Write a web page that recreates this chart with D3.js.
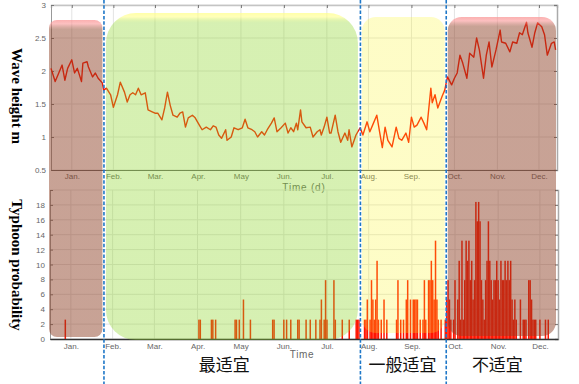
<!DOCTYPE html>
<html>
<head>
<meta charset="utf-8">
<script src="https://cdn.jsdelivr.net/npm/d3@7"></script>
<style>
  body { margin: 0; background: #fff; }
  svg { display: block; font-family: "Liberation Sans", Arial, sans-serif; }
</style>
</head>
<body>
<svg id="chart" width="579" height="384"></svg>
<script>
// ---- data ----
const monthNames = ["Jan.", "Feb.", "Mar.", "Apr.", "May", "Jun.", "Jul.", "Aug.", "Sep.", "Oct.", "Nov.", "Dec."];
const monthTickDays = [15, 45, 75, 106, 137, 168, 199, 229, 260, 291, 322, 352];

const waveTicks = [0.5, 1, 1.5, 2, 2.5, 3];
const probTicks = [0, 2, 4, 6, 8, 10, 12, 14, 16, 18, 20];

const waveDays = [0, 3, 5, 8, 10, 12, 15, 17, 19, 22, 23, 26, 27, 30, 32, 34, 37, 38, 40, 43,
  45, 48, 50, 53, 55, 57, 59, 61, 63, 65, 68, 70, 73, 75, 77, 80, 82, 84, 86, 88,
  91, 93, 95, 97, 99, 102, 104, 107, 109, 112, 115, 117, 119, 121, 123, 126, 127, 130, 132, 135,
  138, 140, 142, 145, 147, 149, 152, 154, 156, 159, 161, 163, 166, 169, 171, 173, 175, 177, 178, 180,
  181, 184, 187, 189, 192, 194, 195, 197, 199, 201, 202, 205, 207, 209, 212, 214, 215, 217, 220, 223,
  225, 228, 230, 232, 235, 237, 239, 241, 243, 246, 249, 251, 253, 256, 258, 260, 262, 264, 267, 269,
  271, 274, 275, 277, 279, 282, 284, 286, 289, 291, 293, 295, 297, 300, 302, 305, 307, 309, 312, 314,
  316, 318, 321, 324, 325, 328, 331, 333, 336, 338, 340, 343, 344, 347, 349, 351, 354, 356, 358, 361,
  363, 364];
const waveHeights = [2.04, 1.84, 1.94, 2.09, 1.86, 2.04, 2.17, 1.97, 2.04, 1.84, 2.12, 2.14, 2.06, 1.91, 1.97, 1.89, 1.82, 1.71, 1.74, 1.64,
  1.45, 1.64, 1.83, 1.68, 1.53, 1.64, 1.67, 1.64, 1.74, 1.64, 1.67, 1.41, 1.38, 1.36, 1.36, 1.26, 1.44, 1.68, 1.48, 1.33,
  1.30, 1.36, 1.38, 1.15, 1.29, 1.33, 1.29, 1.18, 1.11, 1.15, 1.11, 1.17, 1.15, 1.03, 0.98, 1.11, 0.95, 1.00, 1.14, 1.11,
  1.14, 1.27, 1.14, 1.11, 1.08, 1.00, 1.08, 1.03, 1.11, 1.21, 1.29, 1.08, 1.14, 1.21, 1.06, 1.14, 1.08, 1.21, 1.11, 1.41,
  1.23, 1.14, 1.15, 1.00, 1.08, 1.11, 1.03, 1.15, 1.30, 1.06, 1.06, 1.33, 1.08, 0.92, 1.06, 0.95, 1.11, 0.85, 1.03, 1.14,
  1.03, 1.23, 1.08, 1.18, 1.33, 1.08, 0.84, 1.15, 0.95, 0.85, 1.15, 0.98, 0.95, 1.06, 0.92, 1.30, 1.15, 1.18, 1.30, 1.21,
  1.11, 1.74, 1.52, 1.64, 1.44, 1.61, 1.71, 1.91, 1.79, 1.89, 1.97, 2.24, 2.12, 1.89, 2.27, 2.21, 2.50, 2.32, 1.89, 2.24,
  2.44, 2.06, 2.32, 2.62, 2.44, 2.42, 2.29, 2.44, 2.42, 2.58, 2.55, 2.74, 2.58, 2.36, 2.58, 2.73, 2.67, 2.55, 2.24, 2.42,
  2.44, 2.32];

const typhoonDays = [11, 107, 108, 116, 117, 119, 133, 134, 136, 139, 144, 160, 161, 168, 170, 173, 178, 179, 184, 187,
  191, 194, 195, 197, 198, 199, 204, 205, 210, 215, 220, 221,
  222, 226, 227, 228, 230, 231, 232, 233, 234, 235, 236, 238, 240, 242, 249, 250, 252, 254,
  256, 257, 259, 261, 262, 263, 264, 266, 268, 269, 270, 272, 273, 274, 275, 276, 277, 278, 279, 281, 284,
  285, 286, 287, 288, 290, 291, 293, 294, 295, 296, 297, 298, 299, 300, 301, 302, 303, 304, 305, 306,
  307, 308, 309, 310, 311, 312, 313, 314, 315, 316, 317, 318, 319, 320, 321, 322, 323, 324, 325, 326,
  327, 328, 329, 330, 331, 332, 333, 334, 335, 338, 340, 341, 342, 344, 345, 346, 347, 348, 349, 352,
  356, 358];
const typhoonProb = [2.6, 2.6, 2.6, 2.6, 2.6, 2.6, 2.6, 2.6, 2.6, 5.3, 2.6, 2.6, 2.6, 2.6, 2.6, 2.6, 2.6, 2.6, 2.6, 2.6,
  2.6, 2.6, 5.3, 2.6, 7.9, 2.6, 7.9, 2.6, 2.6, 2.6, 2.6, 2.6,
  2.6, 2.6, 2.6, 5.3, 2.6, 7.9, 5.3, 2.6, 5.3, 10.5, 2.6, 2.6, 5.3, 2.6, 2.6, 7.9, 2.6, 2.6,
  5.3, 7.9, 5.3, 5.3, 5.3, 5.3, 5.3, 2.6, 2.6, 7.9, 2.6, 7.9, 7.9, 10.5, 7.9, 5.3, 13.2, 5.3, 2.6, 2.6, 2.6,
  5.3, 7.9, 5.3, 2.6, 2.6, 7.9, 5.3, 10.5, 2.6, 13.2, 2.6, 7.9, 13.2, 10.5, 13.2, 7.9, 10.5, 5.3, 7.9, 18.4,
  15.8, 18.4, 15.8, 7.9, 5.3, 2.6, 7.9, 10.5, 15.8, 10.5, 7.9, 5.3, 7.9, 7.9, 10.5, 7.9, 5.3, 10.5, 7.9, 7.9,
  10.5, 7.9, 10.5, 7.9, 10.5, 5.3, 2.6, 5.3, 2.6, 5.3, 2.6, 2.6, 2.6, 7.9, 7.9, 5.3, 2.6, 2.6, 2.6, 2.6,
  2.6, 2.6];

// seasons: boundaries (days) and labels
const zoneStart = [0, 38.2, 223.2, 285.1];
const zoneEnd = [38.2, 223.2, 285.1, 365];
const zoneKind = ["poor", "best", "fair", "poor"];
const zoneBreaks = [38.2, 223.2, 285.1];
const zoneLabels = ["最适宜", "一般适宜", "不适宜"];
const zoneLabelDays = [125, 253.5, 322];

if (waveDays.length !== waveHeights.length) console.log("wave length mismatch");
if (typhoonDays.length !== typhoonProb.length) console.log("typhoon length mismatch", typhoonDays.length, typhoonProb.length);

// ---- styles ----
const zoneStyle = {
  poor: { fill: "rgb(140,62,35)", op: 0.48, glow: "rgb(250,150,150)" },
  best: { fill: "rgb(142,214,42)", op: 0.36, glow: "rgb(255,255,140)" },
  fair: { fill: "rgb(250,245,30)", op: 0.25, glow: null }
};
const zoneBox = [
  { top: 20, bottom: 337, rx: 8, dl: -2, dr: -1.5 },
  { top: 13, bottom: 340, rx: 30, dl: 2, dr: -2.5 },
  { top: 17, bottom: 333, rx: 14, dl: 1.5, dr: -1.5 },
  { top: 17, bottom: 336, rx: 14, dl: 1.5, dr: -1 }
];
const lineRed = "#ff1400";

const svg = d3.select("#chart");
svg.append("rect").attr("width", 579).attr("height", 384).attr("fill", "#fff");

const xTop = d3.scaleLinear().domain([0, 365]).range([51, 557]);
const yTop = d3.scaleLinear().domain([0.5, 3]).range([170, 5]);
const xBot = d3.scaleLinear().domain([0, 365]).range([50, 558]);
const yBot = d3.scaleLinear().domain([0, 20]).range([339, 190]);

function styleAxis(g, textColor) {
  g.selectAll("text").attr("fill", textColor).attr("font-size", 8);
  g.selectAll(".tick line").attr("stroke", "#777");
}

// ---- top chart: wave height ----
const topG = svg.append("g");
topG.append("g").selectAll("line").data(monthTickDays).join("line")
  .attr("x1", d => xTop(d)).attr("x2", d => xTop(d))
  .attr("y1", yTop(3)).attr("y2", yTop(0.5))
  .attr("stroke", "#e3e3e3");
topG.append("g").selectAll("line").data(waveTicks).join("line")
  .attr("x1", xTop(0)).attr("x2", xTop(365))
  .attr("y1", d => yTop(d)).attr("y2", d => yTop(d))
  .attr("stroke", "#e3e3e3");

topG.append("g").attr("transform", `translate(0,${yTop(3)})`)
  .call(d3.axisTop(xTop).tickValues(monthTickDays).tickSize(-3).tickFormat(""))
  .call(g => g.select(".domain").attr("stroke", "#c4c4c4").attr("stroke-width", 1.5))
  .call(g => styleAxis(g, "#666"));
topG.append("g").attr("transform", `translate(${xTop(365)},0)`)
  .call(d3.axisRight(yTop).tickValues(waveTicks).tickSize(-3).tickFormat(""))
  .call(g => g.select(".domain").attr("stroke", "#aaa").attr("stroke-width", 1.5))
  .call(g => styleAxis(g, "#666"));
topG.append("g").attr("transform", `translate(${xTop(0)},0)`)
  .call(d3.axisLeft(yTop).tickValues(waveTicks).tickSize(-3).tickPadding(5).tickFormat(d3.format("")))
  .call(g => g.select(".domain").attr("stroke", "#999"))
  .call(g => styleAxis(g, "#666"));
topG.append("g").attr("transform", `translate(0,${yTop(0.5)})`)
  .call(d3.axisBottom(xTop).tickValues(monthTickDays).tickSize(0).tickPadding(3).tickFormat((d, i) => monthNames[i]))
  .call(g => g.select(".domain").attr("stroke", "#666").attr("stroke-width", 1.2))
  .call(g => styleAxis(g, "#666"));
topG.append("text").attr("x", 304).attr("y", 190.5)
  .attr("text-anchor", "middle").attr("font-size", 10).attr("letter-spacing", 0.8)
  .attr("fill", "#666").text("Time (d)");

const wave = waveDays.map((d, i) => ({ d, v: waveHeights[i] }));
topG.append("path").datum(wave)
  .attr("fill", "none").attr("stroke", lineRed).attr("stroke-width", 1.4)
  .attr("stroke-linejoin", "round")
  .attr("d", d3.line().x(p => xTop(p.d)).y(p => yTop(p.v)));

// ---- bottom chart: typhoon probability ----
const botG = svg.append("g");
botG.append("g").selectAll("line").data(monthTickDays).join("line")
  .attr("x1", d => xBot(d)).attr("x2", d => xBot(d))
  .attr("y1", yBot(20)).attr("y2", yBot(0))
  .attr("stroke", "#e3e3e3");
botG.append("g").selectAll("line").data(probTicks).join("line")
  .attr("x1", xBot(0)).attr("x2", xBot(365))
  .attr("y1", d => yBot(d)).attr("y2", d => yBot(d))
  .attr("stroke", "#e3e3e3");

const typhoon = typhoonDays.map((d, i) => ({ d, p: typhoonProb[i] }));
botG.append("g").selectAll("rect").data(typhoon).join("rect")
  .attr("x", d => xBot(d.d) - 0.75).attr("width", 1.5)
  .attr("y", d => yBot(d.p)).attr("height", d => yBot(0) - yBot(d.p))
  .attr("fill", lineRed);

botG.append("g").attr("transform", `translate(${xBot(0)},0)`)
  .call(d3.axisLeft(yBot).tickValues(probTicks).tickSize(-3).tickPadding(5).tickFormat(d => d === 20 ? "" : d))
  .call(g => g.select(".domain").attr("stroke", "#999"))
  .call(g => styleAxis(g, "#666"));
botG.append("g").attr("transform", `translate(${xBot(365)},0)`)
  .call(d3.axisRight(yBot).tickValues(probTicks).tickSize(-3).tickFormat(""))
  .call(g => g.select(".domain").attr("stroke", "#aaa").attr("stroke-width", 1.5))
  .call(g => styleAxis(g, "#666"));
botG.append("g").attr("transform", `translate(0,${yBot(0)})`)
  .call(d3.axisBottom(xBot).tickValues(monthTickDays).tickSize(0).tickPadding(4).tickFormat((d, i) => monthNames[i]))
  .call(g => g.select(".domain").attr("stroke", "#333").attr("stroke-width", 1.5))
  .call(g => styleAxis(g, "#666"));
botG.append("text").attr("x", 302).attr("y", 358)
  .attr("text-anchor", "middle").attr("font-size", 10).attr("letter-spacing", 0.6)
  .attr("fill", "#666").text("Time");

// ---- season overlays ----
const defs = svg.append("defs");
zoneKind.forEach((k, i) => {
  const s = zoneStyle[k];
  const gr = defs.append("linearGradient").attr("id", "zg" + i)
    .attr("x1", 0).attr("y1", 0).attr("x2", 0).attr("y2", 1);
  if (s.glow) {
    gr.append("stop").attr("offset", 0).attr("stop-color", s.glow).attr("stop-opacity", 0.75);
    gr.append("stop").attr("offset", 0.012).attr("stop-color", s.glow).attr("stop-opacity", 0.6);
  }
  gr.append("stop").attr("offset", s.glow ? 0.03 : 0).attr("stop-color", s.fill).attr("stop-opacity", s.op);
  gr.append("stop").attr("offset", 1).attr("stop-color", s.fill).attr("stop-opacity", s.op);
});

svg.append("g").selectAll("rect").data(zoneKind).join("rect")
  .attr("x", (k, i) => xTop(zoneStart[i]) + zoneBox[i].dl)
  .attr("width", (k, i) => xTop(zoneEnd[i]) + zoneBox[i].dr - xTop(zoneStart[i]) - zoneBox[i].dl)
  .attr("y", (k, i) => zoneBox[i].top)
  .attr("height", (k, i) => zoneBox[i].bottom - zoneBox[i].top)
  .attr("rx", (k, i) => zoneBox[i].rx)
  .attr("fill", (k, i) => `url(#zg${i})`);

svg.append("g").selectAll("line").data(zoneBreaks).join("line")
  .attr("x1", d => xTop(d)).attr("x2", d => xTop(d))
  .attr("y1", 0).attr("y2", 384)
  .attr("stroke", "#1f78c8").attr("stroke-width", 1.6)
  .attr("stroke-dasharray", "3.5,1.8");

// ---- titles and season labels ----
svg.append("text").attr("transform", "translate(17,96) rotate(90)")
  .attr("text-anchor", "middle").attr("dy", "0.35em")
  .attr("font-family", "'Liberation Serif', 'Times New Roman', serif")
  .attr("font-weight", "bold").attr("font-size", 15).attr("fill", "#000")
  .text("Wave height m");
svg.append("text").attr("transform", "translate(17,265) rotate(90)")
  .attr("text-anchor", "middle").attr("dy", "0.35em")
  .attr("font-family", "'Liberation Serif', 'Times New Roman', serif")
  .attr("font-weight", "bold").attr("font-size", 15).attr("fill", "#000")
  .text("Typhoon probability");

svg.append("g").selectAll("text").data(zoneLabels).join("text")
  .attr("x", (d, i) => xTop(zoneLabelDays[i])).attr("y", 371)
  .attr("text-anchor", "middle")
  .attr("font-family", "'Noto Sans CJK SC', sans-serif")
  .attr("font-size", 17).attr("fill", "#111")
  .text(d => d);
</script>
</body>
</html>
